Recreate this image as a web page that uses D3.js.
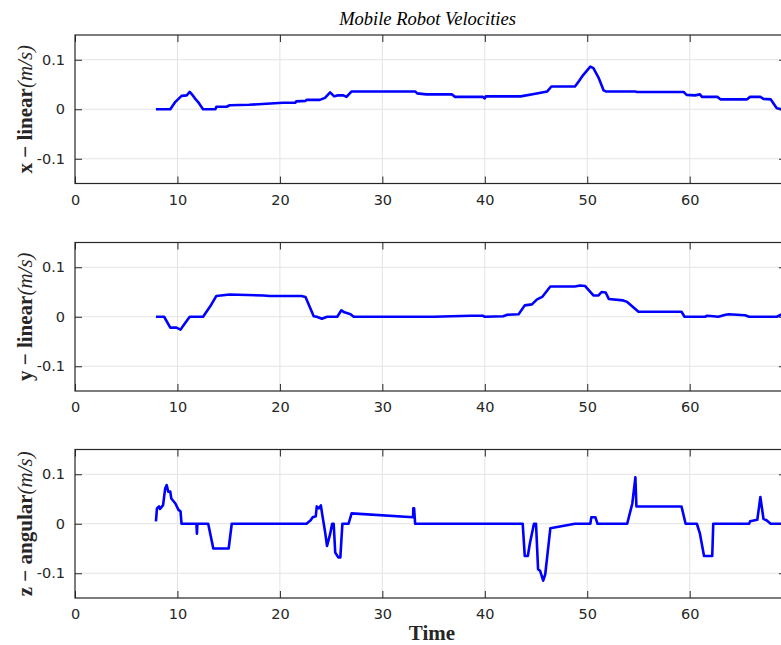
<!DOCTYPE html>
<html>
<head>
<meta charset="utf-8">
<script src="https://cdn.jsdelivr.net/npm/d3@7"></script>
<style>
  html, body { margin: 0; padding: 0; background: #fff; }
  svg { display: block; }
</style>
</head>
<body>
<svg id="chart" width="781" height="645"></svg>
<script>
// Time stamps (s) and velocity samples for each channel
const timeX = [7.9, 9.3, 9.8, 10.4, 10.9, 11.2, 11.5, 11.7, 12.0, 12.5, 13.7, 13.8, 14.8, 15.1, 17.0, 20.3, 21.5, 21.6, 22.5, 22.6, 23.9, 24.4, 24.9, 25.3, 25.6, 26.2, 26.5, 27.0, 33.2, 33.4, 34.3, 36.8, 37.1, 39.8, 40.0, 40.1, 43.5, 44.8, 46.1, 46.5, 48.8, 49.2, 49.6, 50.3, 50.6, 51.1, 51.6, 51.8, 54.7, 54.8, 59.4, 59.7, 60.5, 61.0, 61.2, 62.7, 63.0, 65.6, 65.9, 66.9, 67.2, 67.9, 68.5, 69.0];
const velX  = [0, 0, 0.015, 0.027, 0.028, 0.035, 0.028, 0.022, 0.015, 0, 0, 0.005, 0.005, 0.008, 0.009, 0.013, 0.013, 0.016, 0.017, 0.019, 0.019, 0.023, 0.034, 0.026, 0.028, 0.028, 0.025, 0.036, 0.036, 0.032, 0.030, 0.030, 0.025, 0.025, 0.022, 0.026, 0.026, 0.031, 0.036, 0.046, 0.046, 0.057, 0.069, 0.086, 0.083, 0.064, 0.038, 0.036, 0.036, 0.035, 0.035, 0.029, 0.028, 0.030, 0.025, 0.025, 0.020, 0.020, 0.025, 0.025, 0.021, 0.020, 0.002, 0];

const timeY = [7.9, 8.7, 9.3, 9.9, 10.3, 10.7, 11.2, 12.5, 13.2, 13.8, 15.1, 18.4, 19.0, 22.1, 22.5, 23.3, 23.6, 24.1, 24.6, 25.6, 26.0, 26.3, 26.6, 26.9, 27.2, 35.0, 38.6, 39.8, 40.0, 41.8, 42.2, 43.3, 43.9, 44.6, 45.1, 45.6, 46.4, 48.8, 49.3, 49.8, 50.6, 51.1, 51.4, 51.8, 52.1, 53.5, 53.9, 55.0, 59.2, 59.5, 61.5, 61.7, 62.3, 62.8, 63.5, 63.8, 65.4, 65.8, 68.5, 69.0];
const velY  = [0, 0, -0.022, -0.022, -0.026, -0.014, 0, 0, 0.021, 0.042, 0.045, 0.043, 0.042, 0.042, 0.040, 0.001, 0, -0.004, 0, 0, 0.013, 0.009, 0.007, 0.005, 0, 0, 0.002, 0.002, 0, 0.001, 0.004, 0.005, 0.023, 0.025, 0.035, 0.040, 0.061, 0.061, 0.063, 0.062, 0.043, 0.043, 0.050, 0.049, 0.036, 0.033, 0.030, 0.010, 0.010, 0, 0, 0.002, 0.001, 0, 0.004, 0.005, 0.003, 0, 0, 0.005];

const timeZ = [7.9, 8.0, 8.2, 8.3, 8.5, 8.6, 8.8, 8.95, 9.1, 9.3, 9.4, 9.8, 10.1, 10.3, 10.4, 11.85, 11.9, 11.95, 13.0, 13.5, 15.0, 15.3, 22.6, 23.0, 23.2, 23.5, 23.6, 23.8, 24.0, 24.1, 24.4, 24.6, 24.9, 25.1, 25.25, 25.4, 25.7, 25.9, 26.1, 26.7, 27.0, 33.0, 33.02, 33.1, 33.2, 43.7, 43.9, 44.2, 44.4, 44.8, 45.0, 45.2, 45.4, 45.7, 45.9, 46.1, 46.4, 48.8, 50.3, 50.4, 50.8, 51.0, 53.9, 54.4, 54.7, 54.8, 59.2, 59.6, 60.7, 61.0, 61.4, 62.2, 62.3, 65.8, 65.9, 66.6, 66.9, 67.2, 67.5, 67.9, 69.5];
const velZ  = [0.005, 0.031, 0.035, 0.030, 0.035, 0.038, 0.071, 0.078, 0.065, 0.065, 0.051, 0.041, 0.028, 0.025, 0, 0, -0.020, 0, 0, -0.050, -0.050, 0, 0, 0.007, 0.013, 0.015, 0.035, 0.031, 0.037, 0.023, -0.015, -0.045, -0.021, 0, 0, -0.058, -0.068, -0.068, 0, 0, 0.021, 0.013, 0.031, 0.031, 0, 0, -0.065, -0.065, -0.040, 0, 0, -0.092, -0.095, -0.115, -0.102, -0.065, -0.009, 0, 0, 0.013, 0.013, 0, 0, 0.041, 0.094, 0.035, 0.035, 0, 0, -0.020, -0.065, -0.065, 0, 0, 0.005, 0.008, 0.054, 0.010, 0.007, 0, 0];

const xTicks = [0, 10, 20, 30, 40, 50, 60];
const yTicks = [-0.1, 0, 0.1];
const yTickLabels = ["-0.1", "0", "0.1"];

const panels = [
  { time: timeX, vel: velX, bold: "x \u2212 linear", unit: "(m/s)" },
  { time: timeY, vel: velY, bold: "y \u2212 linear", unit: "(m/s)" },
  { time: timeZ, vel: velZ, bold: "z \u2212 angular", unit: "(m/s)" }
];

const svg = d3.select("#chart");
const left = 75, plotW = 711, plotH = 148.5;
const tops = [35, 242.5, 449.5];
const axisColor = "#262626";
const gridColor = "#e3e3e3";
const tickFont = "'DejaVu Sans', sans-serif";
const serif = "'Liberation Serif', 'Times New Roman', serif";

const x = d3.scaleLinear().domain([0, 69.4]).range([0, plotW]);

svg.append("defs").append("clipPath").attr("id", "plotClip")
  .append("rect").attr("x", 0).attr("y", 0).attr("width", plotW).attr("height", plotH);

panels.forEach((p, i) => {
  const y = d3.scaleLinear().domain([-0.15, 0.15]).range([plotH, 0]);
  const g = svg.append("g").attr("transform", `translate(${left},${tops[i]})`);

  // grid
  g.append("g").selectAll("line.vg").data(xTicks.filter(d => d > 0)).join("line")
    .attr("x1", d => x(d)).attr("x2", d => x(d)).attr("y1", 0).attr("y2", plotH)
    .attr("stroke", gridColor).attr("stroke-width", 1);
  g.append("g").selectAll("line.hg").data(yTicks).join("line")
    .attr("x1", 0).attr("x2", plotW).attr("y1", d => y(d)).attr("y2", d => y(d))
    .attr("stroke", gridColor).attr("stroke-width", 1);

  // data line
  const pts = p.time.map((t, k) => [t, p.vel[k]]);
  g.append("path")
    .datum(pts)
    .attr("clip-path", "url(#plotClip)")
    .attr("fill", "none")
    .attr("stroke", "#0000ff")
    .attr("stroke-width", 2.6)
    .attr("stroke-linejoin", "round")
    .attr("d", d3.line().x(d => x(d[0])).y(d => y(d[1])));

  // axes with inward ticks on all four sides
  const styleAxis = sel => {
    sel.select(".domain").remove();
    sel.attr("font-size", null).attr("font-family", null);
    sel.selectAll(".tick line").attr("stroke", axisColor).attr("stroke-width", 1);
    sel.selectAll(".tick text").attr("fill", axisColor)
      .style("font-family", tickFont).style("font-size", "14.5px");
  };
  g.append("g").attr("transform", `translate(0,${plotH})`)
    .call(d3.axisBottom(x).tickValues(xTicks).tickFormat(d3.format("d"))
      .tickSizeInner(-7).tickSizeOuter(0).tickPadding(11))
    .call(styleAxis);
  g.append("g")
    .call(d3.axisTop(x).tickValues(xTicks).tickFormat("").tickSizeInner(-7).tickSizeOuter(0))
    .call(styleAxis);
  g.append("g")
    .call(d3.axisLeft(y).tickValues(yTicks).tickFormat((d, k) => yTickLabels[k])
      .tickSizeInner(-7).tickSizeOuter(0).tickPadding(10))
    .call(styleAxis);
  g.append("g").attr("transform", `translate(${plotW},0)`)
    .call(d3.axisRight(y).tickValues(yTicks).tickFormat("").tickSizeInner(-7).tickSizeOuter(0))
    .call(styleAxis);

  // box
  g.append("rect").attr("x", 0).attr("y", 0).attr("width", plotW).attr("height", plotH)
    .attr("fill", "none").attr("stroke", axisColor).attr("stroke-width", 1.2);

  // y label
  const yl = svg.append("text")
    .attr("transform", `translate(32,${tops[i] + plotH / 2}) rotate(-90)`)
    .attr("text-anchor", "middle")
    .attr("font-family", serif).attr("font-size", 21).attr("fill", axisColor);
  yl.append("tspan").attr("font-weight", "bold").text(p.bold);
  yl.append("tspan").attr("font-style", "italic").text(p.unit);
});

// title
svg.append("text")
  .attr("x", left + plotW / 2 - 3).attr("y", 25)
  .attr("text-anchor", "middle")
  .attr("font-family", serif).attr("font-style", "italic").attr("font-size", 18.5)
  .attr("fill", "#000")
  .text("Mobile Robot Velocities");

// x-axis label
svg.append("text")
  .attr("x", 432).attr("y", 640)
  .attr("text-anchor", "middle")
  .attr("font-family", serif).attr("font-weight", "bold").attr("font-size", 21)
  .attr("fill", axisColor)
  .text("Time");
</script>
</body>
</html>
